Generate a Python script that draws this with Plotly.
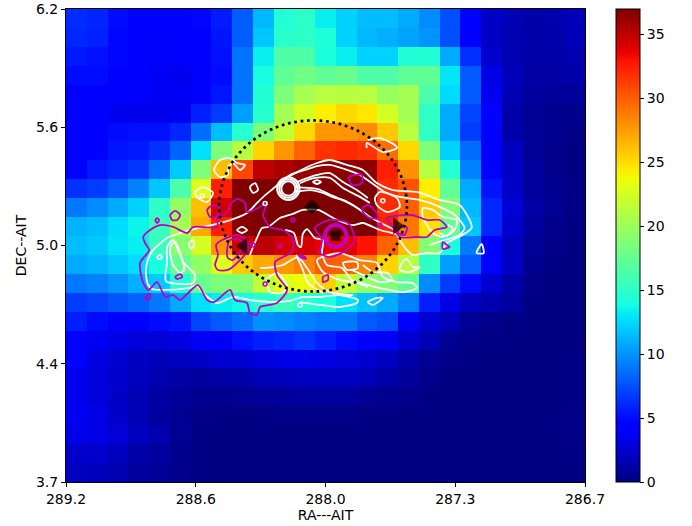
import plotly.graph_objects as go

# ---- map values, top row first (25 x 25 cells of 0.1 deg)
row_00 = [6.2,5.9,5.0,4.2,4.2,4.4,4.8,5.6,8.0,11.3,14.5,15.0,13.3,12.2,11.5,11.5,10.8,9.7,7.5,4.2,2.3,1.7,1.4,1.5,1.8]
row_01 = [6.0,5.8,4.8,4.2,4.0,4.2,4.6,5.4,8.0,11.8,14.8,15.0,14.3,12.3,11.3,11.0,10.6,10.0,7.5,4.2,2.2,1.6,1.3,1.4,1.8]
row_02 = [5.5,5.2,4.8,4.2,4.0,4.1,4.4,5.2,8.8,13.3,16.5,16.5,14.2,13.3,12.3,12.3,14.5,14.5,10.8,6.3,2.5,1.6,1.3,1.3,1.6]
row_03 = [5.0,5.0,4.5,4.1,3.8,3.6,4.0,5.0,8.8,14.0,17.3,18.0,17.3,17.7,16.5,16.5,17.3,17.3,13.0,7.9,3.3,1.9,1.2,1.2,1.4]
row_04 = [4.6,4.6,4.2,4.0,3.8,3.8,4.0,5.4,8.8,14.5,18.6,20.5,21.2,21.2,21.2,19.8,20.3,16.4,12.6,7.9,3.6,1.7,1.0,0.9,0.9]
row_05 = [4.3,4.2,3.6,3.5,3.5,3.6,5.7,6.8,10.4,14.7,20.3,22.5,24.3,25.2,24.6,22.5,20.3,15.1,10.8,7.1,4.1,1.4,0.7,0.5,0.5]
row_06 = [4.1,4.1,5.0,5.2,5.2,6.0,8.6,11.5,14.7,18.6,21.6,25.2,27.8,27.8,28.2,25.8,21.2,15.1,10.8,6.8,4.1,1.4,0.7,0.5,0.3]
row_07 = [4.1,4.1,5.3,5.5,6.4,8.2,12.8,18.6,21.2,25.4,27.8,29.8,31.7,32.1,31.7,29.4,25.2,18.6,12.2,8.6,4.1,2.0,0.8,0.4,0.2]
row_08 = [4.1,5.5,6.0,6.6,8.6,12.0,18.6,26.2,30.9,35.1,35.6,36.2,36.4,36.6,36.6,32.5,28.0,21.2,14.7,9.3,4.1,2.3,1.0,0.4,0.2]
row_09 = [6.4,6.8,7.9,9.3,11.9,16.4,23.0,32.5,37.0,37.0,37.0,37.0,37.0,37.0,37.0,32.0,30.5,24.3,17.3,10.8,5.3,2.3,1.0,0.5,0.2]
row_10 = [9.0,9.7,10.8,12.2,15.1,19.5,26.2,34.3,37.0,37.0,37.0,37.0,37.0,37.0,37.0,32.0,30.0,25.8,18.6,11.3,6.0,2.8,1.2,0.6,0.2]
row_11 = [11.1,11.5,12.6,13.5,15.6,20.3,27.0,32.5,36.7,37.0,37.0,37.0,37.0,37.0,37.0,32.5,29.0,24.8,17.7,11.9,6.0,2.5,1.0,0.4,0.2]
row_12 = [11.5,11.9,12.8,13.3,15.6,19.0,22.5,27.8,34.3,35.1,34.3,34.3,33.7,33.7,32.9,29.8,26.2,18.8,14.2,9.0,4.1,2.0,0.8,0.3,0.1]
row_13 = [10.8,11.1,11.9,12.6,14.0,17.7,19.5,22.9,25.8,27.0,27.8,28.6,30.1,29.8,28.6,25.4,21.2,15.1,10.4,7.9,4.1,2.3,0.5,0.2,0.1]
row_14 = [9.0,9.3,10.0,11.0,12.0,14.7,17.7,18.6,18.6,21.6,22.9,23.5,25.4,21.6,19.5,18.6,17.3,9.7,6.8,5.0,2.5,1.3,0.3,0.1,0.1]
row_15 = [6.8,7.1,7.7,8.2,9.0,10.8,12.8,13.3,13.8,14.7,15.6,14.7,14.2,12.8,11.7,10.8,9.3,5.7,3.3,2.0,1.6,1.0,0.2,0.1,0.1]
row_16 = [5.7,5.0,4.1,4.1,5.0,5.3,7.1,7.9,8.6,9.9,9.7,9.3,9.0,9.0,7.9,7.5,4.1,2.6,1.8,0.7,0.4,0.2,0.1,0.1,0.1]
row_17 = [4.1,3.7,3.3,2.9,2.8,3.1,3.8,3.8,5.2,5.7,6.0,6.4,5.7,5.0,4.1,3.8,2.5,1.7,0.6,0.4,0.2,0.1,0.1,0.1,0.1]
row_18 = [4.1,3.1,2.6,2.1,1.8,2.0,2.3,2.6,2.6,3.0,3.3,3.3,3.1,2.8,2.5,2.0,1.3,0.7,0.3,0.2,0.1,0.1,0.1,0.1,0.2]
row_19 = [3.6,3.0,2.5,2.0,1.5,1.2,1.0,1.2,1.3,1.7,1.8,2.0,2.0,2.0,1.8,1.3,0.9,0.4,0.1,0.1,0.1,0.1,0.1,0.1,0.2]
row_20 = [3.6,3.0,2.3,1.7,1.1,0.8,0.5,0.5,0.6,0.8,0.9,1.0,1.0,1.0,0.7,0.5,0.4,0.2,0.1,0.1,0.1,0.1,0.1,0.1,0.2]
row_21 = [3.6,3.3,2.4,1.7,1.0,0.6,0.3,0.2,0.1,0.2,0.3,0.3,0.3,0.3,0.2,0.2,0.1,0.1,0.1,0.1,0.1,0.1,0.1,0.2,0.3]
row_22 = [3.4,3.3,2.8,2.0,1.5,0.6,0.2,0.1,0.1,0.1,0.1,0.1,0.1,0.1,0.1,0.1,0.1,0.1,0.1,0.1,0.1,0.1,0.1,0.2,0.3]
row_23 = [2.4,2.4,2.0,1.3,1.0,0.5,0.2,0.1,0.1,0.1,0.1,0.1,0.1,0.1,0.1,0.1,0.1,0.1,0.1,0.1,0.1,0.1,0.1,0.1,0.2]
row_24 = [2.0,1.9,1.6,1.0,0.8,0.4,0.2,0.1,0.1,0.1,0.1,0.1,0.1,0.1,0.1,0.1,0.1,0.1,0.1,0.1,0.1,0.1,0.1,0.1,0.1]
rows_top_down = [row_00,row_01,row_02,row_03,row_04,row_05,row_06,row_07,row_08,row_09,row_10,row_11,row_12,
                 row_13,row_14,row_15,row_16,row_17,row_18,row_19,row_20,row_21,row_22,row_23,row_24]

ra_ticks = [289.2, 288.575, 287.95, 287.325, 286.7]
ra_labels = ["289.2", "288.6", "288.0", "287.3", "286.7"]
dec_ticks = [3.7, 4.325, 4.95, 5.575, 6.2]
dec_labels = ["3.7", "4.4", "5.0", "5.6", "6.2"]
cbar_ticks = [0, 5, 10, 15, 20, 25, 30, 35]

# ---- white contours (RA, Dec)
w_main = [(288.540,5.048),(288.424,5.079),(288.328,5.122),(288.280,5.175),(288.251,5.206),(288.193,5.259),(288.155,5.296),
 (288.087,5.338),(287.991,5.386),(287.929,5.402),(287.847,5.376),(287.770,5.349),(287.703,5.280),(287.626,5.243),(287.510,5.233),
 (287.400,5.191),(287.304,5.164),(287.256,5.085),(287.246,5.043),(287.289,5.006),(287.366,4.963),(287.400,4.910),(287.462,4.910),
 (287.530,4.900),(287.558,4.926),(287.592,4.979),(287.606,5.006),(287.688,5.032),(287.770,5.069),(287.818,5.058),(287.895,5.085),
 (287.986,5.138),(288.059,5.138),(288.107,5.117),(288.169,5.095),(288.227,5.048),(288.256,5.043),(288.280,4.990),(288.299,4.942),(288.314,4.900)]
w_left_low = [(288.540,5.048),(288.650,5.016),(288.713,4.990),(288.780,4.926),(288.809,4.863),(288.814,4.794),(288.804,4.741),
 (288.785,4.720),(288.732,4.715),(288.612,4.725),(288.568,4.736),(288.540,4.699),(288.472,4.646),(288.395,4.678),(288.314,4.662),
 (288.203,4.651),(288.121,4.657),(288.059,4.678),(287.977,4.678),(287.881,4.688),(287.794,4.662),(287.799,4.646),(287.881,4.625),
 (287.977,4.636),(288.073,4.651)]
w_left_2 = [(288.684,4.979),(288.713,4.942),(288.713,4.863),(288.718,4.762),(288.588,4.752),(288.578,4.794),(288.636,4.863),(288.660,4.926),(288.684,4.979)]
w_left_3 = [(288.698,4.942),(288.674,4.968),(288.650,4.910),(288.631,4.821),(288.650,4.805),(288.684,4.847),(288.698,4.910),(288.698,4.942)]
w_left_s1 = [(288.761,4.889),(288.746,4.900),(288.737,4.884),(288.756,4.878),(288.761,4.889)]
w_left_s2 = [(288.607,4.963),(288.588,4.979),(288.583,4.942),(288.602,4.937),(288.607,4.963)]
w_band_2 = [(288.179,5.270),(288.121,5.323),(288.049,5.349),(287.991,5.370),(287.929,5.376),(287.857,5.354),(287.784,5.323),(287.727,5.280),
 (287.664,5.233),(287.592,5.207),(287.496,5.191),(287.400,5.154),(287.328,5.111),(287.280,5.043),(287.304,5.006),(287.376,4.979),(287.448,4.953)]
w_band_3 = [(288.087,5.286),(287.991,5.323),(287.929,5.333),(287.866,5.286),(287.799,5.243),(287.746,5.201)]
w_band_3b = [(288.073,5.280),(288.001,5.307),(287.929,5.307),(287.866,5.254),(287.784,5.207),(287.736,5.175)]
w_band_4 = [(288.097,5.259),(287.991,5.249),(287.914,5.212),(287.818,5.164),(287.736,5.101),(287.664,5.058),(287.616,5.032)]
w_band_5 = [(288.097,5.233),(288.025,5.243),(287.962,5.228),(287.905,5.201),(287.866,5.191),(287.799,5.149),(287.751,5.111)]
w_ellipse = [(287.712,5.201),(287.688,5.233),(287.606,5.201),(287.592,5.154),(287.654,5.127),(287.703,5.164),(287.712,5.201)]
w_top_s = [(288.010,5.286),(287.991,5.296),(287.972,5.286),(287.991,5.275),(288.010,5.286)]
w_right_3 = [(287.481,5.148),(287.433,5.138),(287.385,5.101),(287.318,5.085),(287.328,5.032),(287.385,4.995),(287.433,5.016),(287.481,5.101),(287.481,5.148)]
w_right_4 = [(287.400,5.016),(287.366,5.000),(287.337,5.043),(287.361,5.058)]
w_top_right = [(287.746,5.508),(287.688,5.518),(287.616,5.481),(287.606,5.465),(287.674,5.444),(287.751,5.492),(287.751,5.465)]
w_low_right = [(287.881,4.910),(287.784,4.873),(287.703,4.858),(287.674,4.784),(287.606,4.757),(287.530,4.752),(287.510,4.725),(287.577,4.704),
 (287.688,4.725),(287.784,4.752),(287.881,4.768),(287.962,4.810),(287.991,4.873),(287.881,4.910)]
w_low_r2 = [(287.770,4.847),(287.722,4.810),(287.650,4.805),(287.630,4.768),(287.688,4.757),(287.770,4.794),(287.823,4.821)]
w_s_a = [(287.703,4.673),(287.674,4.673),(287.722,4.636),(287.746,4.651),(287.703,4.673)]
w_s_b = [(287.222,4.916),(287.198,4.958),(287.188,4.910),(287.222,4.910),(287.222,4.916)]
w_s_c = [(287.582,4.858),(287.558,4.879),(287.530,4.836),(287.496,4.836),(287.544,4.810),(287.592,4.821),(287.582,4.858)]
w_s_d = [(287.866,4.858),(287.799,4.863),(287.794,4.831),(287.847,4.821),(287.866,4.858)]
w_top_left = [(288.487,5.349),(288.458,5.402),(288.410,5.412),(288.376,5.386),(288.338,5.376),(288.362,5.349),(288.396,5.386),(288.420,5.365),(288.420,5.323),(288.458,5.312),(288.487,5.349)]
w_loop_a = [(288.578,5.233),(288.540,5.259),(288.492,5.228),(288.520,5.180),(288.564,5.201),(288.578,5.233)]
w_loop_b = [(288.314,5.259),(288.289,5.280),(288.275,5.243),(288.299,5.228),(288.314,5.259)]
w_loop_c = [(288.376,5.032),(288.352,5.048),(288.328,5.032),(288.352,5.016),(288.376,5.032)]
w_u = [(288.145,5.032),(288.102,5.016),(288.083,4.953),(288.068,4.942),(288.059,5.011),(288.039,5.037),(288.001,4.990),(287.962,4.979),
 (287.967,4.910),(287.943,4.847),(287.871,4.831),(287.823,4.768),(287.746,4.731)]
w_low_2 = [(288.265,4.831),(288.203,4.836),(288.155,4.847),(288.083,4.889),(288.039,4.831),(287.991,4.752),(287.929,4.704),(287.818,4.688)]
w_low_3 = [(288.092,4.900),(288.059,4.821),(288.035,4.752),(287.962,4.699)]
w_low_loop = [(288.232,4.768),(288.217,4.704),(288.160,4.699),(288.135,4.731),(288.183,4.805),(288.232,4.768)]
white_lines = [w_main,w_left_low,w_left_2,w_left_3,w_left_s1,w_left_s2,w_band_2,w_band_3,w_band_3b,w_band_4,w_band_5,w_ellipse,w_top_s,
 w_right_3,w_right_4,w_top_right,w_low_right,w_low_r2,w_s_a,w_s_b,w_s_c,w_s_d,w_top_left,w_loop_a,w_loop_b,w_loop_c,w_u,w_low_2,w_low_3,w_low_loop]
white_dot_ra = [287.674, 288.544, 288.241, 288.073]
white_dot_dec = [5.186, 5.212, 5.172, 4.636]

# ---- magenta contours (RA, Dec)
m_main = [(288.232,5.175),(288.275,5.148),(288.328,5.127),(288.338,5.175),(288.376,5.196),(288.410,5.164),(288.420,5.127),(288.472,5.101),
 (288.506,5.101),(288.520,5.138),(288.492,5.164),(288.463,5.154),(288.472,5.101),(288.472,5.048),(288.588,5.048),(288.616,5.016),(288.684,5.048),
 (288.746,5.058),(288.795,5.032),(288.828,4.995),(288.819,4.963),(288.799,4.926),(288.843,4.858),(288.833,4.768),(288.804,4.715),(288.761,4.757),
 (288.722,4.678),(288.684,4.688),(288.650,4.662),(288.612,4.699),(288.564,4.741),(288.520,4.662),(288.487,4.651),(288.410,4.715),(288.386,4.662),
 (288.328,4.646),(288.314,4.593),(288.280,4.583),(288.265,4.625),(288.184,4.646),(288.135,4.715),(288.184,4.794),(288.193,4.863),(288.155,4.889),
 (288.111,4.916),(288.107,4.979),(288.145,5.027),(288.217,5.048),(288.251,5.111),(288.232,5.175)]
m_s1 = [(288.698,5.111),(288.674,5.133),(288.650,5.111),(288.665,5.085),(288.689,5.085),(288.698,5.111)]
m_s2 = [(288.770,5.085),(288.761,5.095),(288.751,5.085),(288.761,5.069),(288.770,5.085)]
m_s3 = [(288.819,4.673),(288.795,4.694),(288.795,4.673),(288.809,4.662),(288.819,4.673)]
m_s4 = [(288.674,4.784),(288.650,4.799),(288.640,4.784),(288.665,4.773),(288.674,4.784)]
m_tri_out = [(288.477,4.953),(288.448,4.979),(288.376,5.006),(288.328,4.979),(288.323,4.926),(288.362,4.873),(288.420,4.821),(288.468,4.821),(288.482,4.847),(288.468,4.900),(288.477,4.953)]
m_tri_in = [(288.424,4.926),(288.410,4.979),(288.362,4.979),(288.352,4.937),(288.396,4.873),(288.420,4.884),(288.424,4.926)]
m_center = [(288.001,5.043),(287.929,5.085),(287.842,5.069),(287.808,4.979),(287.847,4.926),(287.929,4.889),(287.977,4.910),(287.967,4.979),(288.001,5.043)]
m_right = [(287.655,5.095),(287.577,5.111),(287.530,5.111),(287.462,5.085),(287.400,5.085),(287.366,5.048),(287.424,5.032),(287.462,4.995),(287.510,4.995),(287.592,4.995),(287.626,5.048),(287.655,5.095)]
m_right_in = [(287.592,5.048),(287.558,5.048),(287.568,5.006),(287.601,5.016),(287.592,5.048)]
m_mid = [(287.770,5.148),(287.746,5.164),(287.703,5.122),(287.698,5.095),(287.736,5.095),(287.770,5.127),(287.770,5.148)]
m_top = [(287.837,5.312),(287.775,5.323),(287.775,5.280),(287.823,5.270),(287.837,5.312)]
m_far = [(287.385,4.968),(287.366,4.953),(287.352,4.942),(287.385,4.932),(287.385,4.968)]
m_s5 = [(287.962,4.784),(287.938,4.794),(287.938,4.768),(287.962,4.757),(287.962,4.784)]
m_s6 = [(288.078,4.900),(288.049,4.889),(288.044,4.879),(288.073,4.889),(288.078,4.900)]
magenta_lines = [m_main,m_s1,m_s2,m_s3,m_s4,m_tri_out,m_tri_in,m_center,m_right,m_right_in,m_mid,m_top,m_far,m_s5,m_s6]
magenta_dot_ra = [287.688, 288.107, 288.169, 288.241, 288.299]
magenta_dot_dec = [5.058, 5.085, 4.947, 4.747, 4.953]

# ---- rings (centre RA, centre Dec, half-width RA, half-height Dec)
white_rings = [(288.129,5.251,0.034,0.038),(288.129,5.251,0.044,0.049),(288.129,5.251,0.054,0.060)]
magenta_ring = (287.901,5.000,0.052,0.058)
region = (288.01,5.159,0.452,0.452)

# ---- source markers
src_ra = [288.345, 287.606, 287.901, 288.015]
src_dec = [4.947, 5.053, 5.000, 5.154]
src_symbol = ["triangle-left", "triangle-right", "square", "diamond"]
src_size = [15, 15, 10, 12]

jet = [(0.0,"rgb(0,0,127)"),(0.11,"rgb(0,0,255)"),(0.125,"rgb(0,0,255)"),(0.34,"rgb(0,219,255)"),(0.35,"rgb(0,230,247)"),
       (0.375,"rgb(20,255,226)"),(0.64,"rgb(238,255,8)"),(0.65,"rgb(247,246,0)"),(0.66,"rgb(255,236,0)"),(0.89,"rgb(255,19,0)"),
       (0.91,"rgb(232,0,0)"),(1.0,"rgb(127,0,0)")]

FONT = "DejaVu Sans"
fig = go.Figure()
fig.add_trace(go.Heatmap(
    z=rows_top_down[::-1], x0=289.15, dx=-0.1, y0=3.75, dy=0.1,
    zmin=0, zmax=37, colorscale=jet, showscale=True, hoverinfo="skip",
    colorbar=dict(thickness=24, thicknessmode="pixels", len=1, lenmode="fraction", y=0, yanchor="bottom",
                  x=1.0606, xanchor="left", xpad=0, ypad=0, outlinewidth=1, outlinecolor="black",
                  tickvals=cbar_ticks, ticks="outside", ticklen=4, tickwidth=1, tickcolor="black",
                  tickfont=dict(family=FONT, size=14, color="black")),
))

def add_lines(lines, color):
    for pts in lines:
        fig.add_trace(go.Scatter(x=[p[0] for p in pts], y=[p[1] for p in pts], mode="lines",
                                 line=dict(color=color, width=1.8, shape="spline", smoothing=0.7),
                                 showlegend=False, hoverinfo="skip"))

add_lines(white_lines, "white")
add_lines(magenta_lines, "#bf00bf")
fig.add_trace(go.Scatter(x=white_dot_ra, y=white_dot_dec, mode="markers",
                         marker=dict(symbol="circle-open", size=4, color="white", line=dict(width=1.5, color="white")),
                         showlegend=False, hoverinfo="skip"))
fig.add_trace(go.Scatter(x=magenta_dot_ra, y=magenta_dot_dec, mode="markers",
                         marker=dict(symbol="circle-open", size=4, color="#bf00bf", line=dict(width=1.5, color="#bf00bf")),
                         showlegend=False, hoverinfo="skip"))

shapes = []
for cx, cy, rx, ry in white_rings:
    shapes.append(dict(type="circle", xref="x", yref="y", x0=cx-rx, x1=cx+rx, y0=cy-ry, y1=cy+ry,
                       line=dict(color="white", width=2)))
cx, cy, rx, ry = magenta_ring
shapes.append(dict(type="circle", xref="x", yref="y", x0=cx-rx, x1=cx+rx, y0=cy-ry, y1=cy+ry,
                   line=dict(color="#bf00bf", width=4)))
cx, cy, rx, ry = region
shapes.append(dict(type="circle", xref="x", yref="y", x0=cx-rx, x1=cx+rx, y0=cy-ry, y1=cy+ry,
                   line=dict(color="black", width=2.7, dash="2.7px,3.7px")))

# source markers are drawn last in a separate overlaying axis pair so they sit above the shapes
fig.add_trace(go.Scatter(x=src_ra, y=src_dec, mode="markers", xaxis="x2", yaxis="y2",
                         marker=dict(symbol=src_symbol, size=src_size, color="black", line=dict(width=0)),
                         showlegend=False, hoverinfo="skip"))

fig.update_layout(
    width=692, height=526, margin=dict(l=65.5, r=106.5, t=9, b=44, autoexpand=False),
    paper_bgcolor="white", plot_bgcolor="white", showlegend=False, shapes=shapes,
    font=dict(family=FONT, size=14, color="black"),
    xaxis=dict(range=[289.2, 286.7], tickvals=ra_ticks, ticktext=ra_labels, ticks="outside", ticklen=4, tickwidth=1,
               tickcolor="black", showgrid=False, zeroline=False, showline=True, linecolor="black", linewidth=1, mirror=True,
               title=dict(text="RA---AIT", font=dict(family=FONT, size=14), standoff=4),
               tickfont=dict(family=FONT, size=14), tickangle=0),
    yaxis=dict(range=[3.7, 6.2], tickvals=dec_ticks, ticktext=dec_labels, ticks="outside", ticklen=4, tickwidth=1,
               tickcolor="black", showgrid=False, zeroline=False, showline=True, linecolor="black", linewidth=1, mirror=True,
               title=dict(text="DEC--AIT", font=dict(family=FONT, size=14), standoff=6),
               tickfont=dict(family=FONT, size=14), tickangle=0),
    xaxis2=dict(range=[289.2, 286.7], overlaying="x", visible=False),
    yaxis2=dict(range=[3.7, 6.2], overlaying="y", visible=False),
)
fig.write_html("out.html", config={"displayModeBar": False},
               post_script="document.body.style.margin='0';document.body.style.overflow='hidden';")
